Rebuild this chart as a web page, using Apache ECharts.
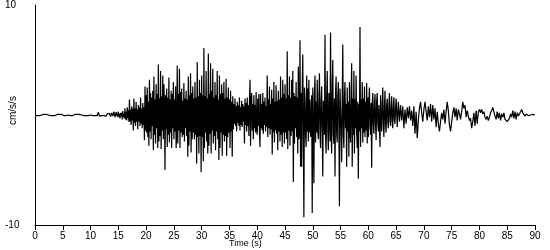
<!DOCTYPE html>
<html><head><meta charset="utf-8">
<script src="https://cdn.jsdelivr.net/npm/echarts@6/dist/echarts.min.js"></script>
<style>html,body{margin:0;padding:0;background:#fff}#c{width:550px;height:250px}</style>
</head><body><div id="c"></div>
<script>
// accelerations (cm/s/s). Coarse segments: 0.2 s step; busy segments: 0.1 s step
const s00 = [0,0.05,-0.05,0.05,-0.05,0.05,0,-0.05,0.05,-0.05,0.05,-0.05,0,0.05,-0.05,0.05,-0.05,0.05,-0.05,0,0.05,-0.05,0.05,-0.05,0.05];
const s05 = [0,-0.05,0.05,-0.05,0.05,0,0.05,-0.05,0.05,-0.05,0,0.05,-0.05,0.05,-0.05,0.05,-0.05,0,0.05,-0.05,0.05,-0.05,0.05,-0.05,0];
const s10 = [0,0.05,-0.05,0.05,-0.05,0.05,-0.05,0.25,-0.1,0.05,-0.05,0.05,-0.05,0.05,-0.1,0.1,-0.05,0.15,-0.15,0.2,-0.1,0.3,-0.2,0.25,-0.15];
const f15 = [0.3,-0.2,0.1,-0.3,0.2,-0.1,0.2,-0.4,0.35,-0.2,0.1,-0.3,0.6,-0.4,0.3,-0.5,0.7,-0.3,0.4,-0.6,1.4,-0.6,0.5,-0.9,0.8,-0.5,0.6,-1.4,1.5,-0.7,0.6,-1.0,1.2,-0.6,0.5,-1.3,0.9,-0.6,0.7,-1.0,1.6,-0.8,0.6,-1.2,1.1,-0.9,0.7,-2.3,2.6,-1.4];
const f20 = [1.8,-1.6,2.5,-2.0,1.2,-2.8,3.2,-1.5,2.0,-2.2,1.6,-1.0,2.2,-3.2,3.5,-1.8,1.4,-2.6,2.8,-1.2,1.9,-3.0,4.6,-2.4,1.5,-1.9,4.0,-3.1,1.7,-1.4,3.6,-2.2,2.8,1.0,-5.0,1.8,-1.3,2.4,-2.9,1.6,-1.8,3.4,-2.5,1.4,-1.6,2.2,-3.0,1.9,-1.2,3.0];
const f25 = [-2.2,1.4,-1.5,2.6,-3.0,-1.7,4.5,-2.6,1.9,-1.4,4.2,-3.0,2.1,-1.6,2.4,-2.0,1.3,-1.8,2.9,-2.4,1.5,-1.2,2.2,-1.9,1.4,-3.8,3.5,-2.8,1.8,-1.5,3.8,-3.4,2.0,-2.2,2.6,-1.6,1.5,-2.2,3.0,-1.8,1.6,-4.4,4.8,-2.0,1.7,-3.5,3.2,-1.9,2.0,-5.2];
const f30 = [3.6,-2.0,1.8,-4.2,6.1,-3.0,1.7,-1.6,4.0,-2.4,1.5,-3.5,5.6,-2.8,1.9,-1.7,4.7,-3.5,2.2,-1.4,4.2,-2.6,1.6,-1.9,3.0,-3.2,1.8,-1.5,4.0,-2.2,1.4,-4.1,3.6,-3.0,1.9,-1.6,2.8,-3.7,2.0,-1.8,3.0,-2.4,1.5,-1.9,3.3,-3.7,1.6,-2.0,2.5,-1.6];
const f35 = [1.4,-3.0,2.2,-1.5,1.2,-3.8,1.7,-1.3,1.0,-0.8,1.5,-1.0,0.8,-1.5,1.2,-0.7,0.9,-1.0,1.6,-1.4,0.7,-0.9,1.3,-1.1,1.0,-0.6,0.8,-2.6,1.5,-0.9,1.1,-1.5,1.6,-1.0,0.9,-1.9,1.2,3.2,-2.8,1.3,2.0,-1.4,1.0,-2.2,1.8,-1.2,0.9,-1.6,2.1,-1.3];
const f40 = [-1.8,1.5,-1.0,1.9,-1.4,-2.9,1.9,-1.2,1.0,-1.4,2.0,-1.7,1.2,-0.9,1.6,-1.5,0.8,-1.1,3.6,-2.0,1.4,-1.2,2.6,-1.8,1.0,-1.3,2.3,-3.6,1.5,-1.6,3.0,-2.5,1.2,-1.4,2.7,-1.7,1.3,-3.2,2.2,-1.5,1.4,-2.4,3.5,-1.8,1.6,-2.9,3.2,-1.6,1.9,-2.6];
const f45 = [2.8,-1.6,1.5,-2.2,5.8,-3.1,1.8,-1.4,3.5,-2.8,1.6,-1.9,3.2,-1.5,4.0,-6.1,2.0,-2.6,1.7,-1.2,3.0,-2.0,1.6,-3.5,4.4,-2.2,-1.6,6.8,-4.7,2.0,-4.7,2.4,5.5,-2.0,-9.3,2.5,1.2,-1.8,-2.9,3.6,-1.5,2.4,-2.4,3.2,-1.6,1.4,-2.0,-1.0,1.8,-8.9];
const f50 = [2.5,-1.4,-6.2,1.8,3.6,-2.5,1.2,-1.6,3.2,-1.4,-2.2,1.6,3.8,-1.8,-3.0,1.4,2.6,-1.5,-5.6,1.3,0.8,-1.8,7.3,-2.0,-3.5,1.6,4.0,-1.4,-3.2,2.0,1.0,-2.4,7.5,-1.6,-3.5,2.2,5.0,-1.8,-2.6,1.5,-5.6,2.0,3.5,-1.7,-2.5,1.6,3.0,-1.2,-8.3,2.4];
const f55 = [2.5,-1.3,-4.3,1.5,6.4,-1.8,-3.0,1.6,3.0,-1.2,1.0,-4.7,2.5,-1.5,1.2,-3.8,3.0,-1.4,-2.5,1.6,4.7,-4.7,1.5,-1.8,4.0,-3.5,1.4,-1.2,3.6,-1.6,-3.0,1.2,-5.8,1.0,-1.5,8.0,-2.9,1.4,-1.2,3.0,-2.5,1.5,-1.6,2.6,-2.0,1.2,-1.4,2.9,-2.6,1.6];
const f60 = [-2.0,1.2,2.5,-1.0,-1.8,1.1,-4.8,1.0,2.0,-0.8,-1.7,1.0,1.9,-0.9,-2.3,1.2,2.0,-0.7,-1.5,0.9,-1.2,-2.9,1.8,-0.6,-1.5,1.0,2.5,-0.8,-2.0,0.7,2.2,-0.9,-1.6,0.8,1.5,-0.6,-1.2,0.9,2.0,-0.5,-1.0,0.7,1.7,-0.6,-1.2,0.8,1.6,-0.4,-0.8,0.6];
const s65 = [1.5,-1.1,1.2,-0.6,0.9,-0.5,0.8,-1.2,0.5,-0.8,0.7,-0.3,0.8,-0.5,0.4,-1.0,0.8,-1.7,0.3,-2.1,-0.5,0.6,1.2,0.2,-0.6];
const s70 = [0.5,1.2,0.3,-0.5,0.8,-0.2,1.0,-0.6,0.9,-0.4,0.6,-1.1,0.3,-0.8,-1.5,-0.6,0.2,-0.4,0.5,-0.8,0.3,1.2,0.4,-0.9,-1.5];
const s75 = [-0.6,0.2,0.7,-0.2,0.6,-0.5,0.5,0.1,-0.4,0.3,1.2,0.6,0.9,-0.2,0.4,-0.1,-0.5,-0.3,-1.2,-0.6,0.2,-1.0,0.4,-0.8,0.3];
const s80 = [0.5,0.2,0.5,0.1,0.3,-0.2,-0.4,-0.1,-0.5,-0.2,0.2,0.4,0.7,0.3,-0.1,-0.4,0.3,-0.3,0.2,-0.5,0.1,-0.2,0.2,-0.4,-0.3];
const s85 = [-0.6,-0.75,-0.3,0.1,-0.2,0.4,-0.3,0.3,-0.4,0.2,-0.1,0.1,0.3,0.5,0.2,0.1,-0.1,0.1,0,-0.05,0.05,0,-0.05,0.05,0];
const sEnd = [0];
// segment start times (s) and steps (s)
const segStarts = [0, 5, 10, 15, 20, 25, 30, 35, 40, 45, 50, 55, 60, 65, 70, 75, 80, 85, 90];
const segSteps  = [0.2,0.2,0.2,0.1,0.1,0.1,0.1,0.1,0.1,0.1,0.1,0.1,0.1,0.2,0.2,0.2,0.2,0.2,0.2];
const segValues = [s00,s05,s10,f15,f20,f25,f30,f35,f40,f45,f50,f55,f60,s65,s70,s75,s80,s85,sEnd];
// axis tick settings
const xTicks = {min: 0, max: 90, step: 5};
const yTicks = {min: -10, max: 10, step: 20};

const data = [];
segValues.forEach((arr, si) => {
  arr.forEach((v, i) => data.push([+(segStarts[si] + i * segSteps[si]).toFixed(2), v]));
});

const chart = echarts.init(document.getElementById('c'), null, {renderer: 'canvas'});
const font = 'Liberation Sans, Arial, sans-serif';
chart.setOption({
  animation: false,
  backgroundColor: '#fff',
  grid: {left: 35, right: 15, top: 5, bottom: 25, containLabel: false},
  xAxis: {
    type: 'value', min: xTicks.min, max: xTicks.max, interval: xTicks.step,
    axisLine: {show: true, onZero: false, lineStyle: {color: '#000', width: 1}},
    axisTick: {show: true, length: 5, lineStyle: {color: '#000'}},
    axisLabel: {color: '#000', fontSize: 10, fontFamily: font, margin: 6},
    splitLine: {show: false}
  },
  yAxis: {
    type: 'value', min: yTicks.min, max: yTicks.max, interval: yTicks.step,
    axisLine: {show: true, lineStyle: {color: '#000', width: 1}},
    axisTick: {show: false},
    axisLabel: {color: '#000', fontSize: 10, fontFamily: font, margin: 30, align: 'left'},
    splitLine: {show: false}
  },
  graphic: [
    {type: 'text', left: 229, top: 239, style: {text: 'Time (s)', fill: '#000', font: '9px ' + font}},
    {type: 'text', x: 8, y: 125, rotation: Math.PI / 2, style: {text: 'cm/s/s', fill: '#000', font: '10px ' + font}}
  ],
  series: [{
    type: 'line', data: data, showSymbol: false, symbol: 'none', sampling: null,
    lineStyle: {color: '#000', width: 1.2}, z: 3
  }]
});
</script></body></html>
